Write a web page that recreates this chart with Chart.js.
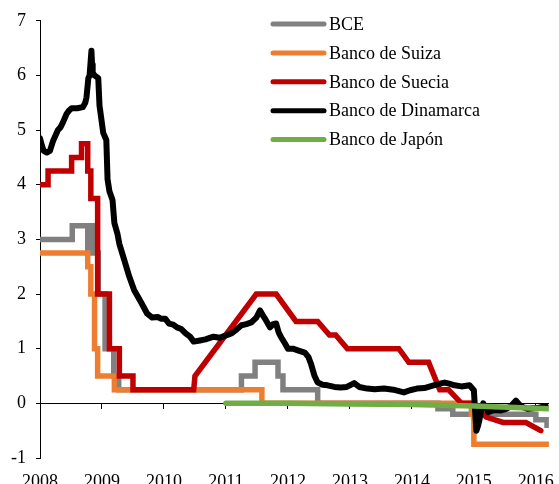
<!DOCTYPE html>
<html>
<head>
<meta charset="utf-8">
<script src="https://cdn.jsdelivr.net/npm/chart.js@4.4.1/dist/chart.umd.min.js"></script>
<style>
body { margin: 0; background: #fff; }
#wrap { width: 559px; height: 484px; overflow: hidden; }
</style>
</head>
<body>
<div id="wrap"><canvas id="graph" width="559" height="484"></canvas></div>
<script>
// series names + colours (legend order)
const seriesLabels = ['BCE', 'Banco de Suiza', 'Banco de Suecia', 'Banco de Dinamarca', 'Banco de Japón'];
const seriesColors = ['#808080', '#ed7d31', '#c00000', '#000000', '#70ad47'];

// axis ranges / ticks
const yearMin = 2008;
const yearMax = 2016.21;
const rateMin = -1;
const rateMax = 7;

// BCE
const bceYears = [2008.0, 2008.52, 2008.52, 2008.77, 2008.77, 2008.79, 2008.79, 2008.87, 2008.87, 2008.94, 2008.94, 2009.05, 2009.05, 2009.19, 2009.19, 2009.27, 2009.27, 2011.25, 2011.25, 2011.47, 2011.47, 2011.84, 2011.84, 2011.92, 2011.92, 2012.48, 2012.48, 2014.42, 2014.42, 2014.66, 2014.66, 2016.0, 2016.0, 2016.18, 2016.18, 2016.21];
const bceRates = [3.0, 3.0, 3.25, 3.25, 2.75, 2.75, 3.25, 3.25, 2.75, 2.75, 2.0, 2.0, 1.0, 1.0, 0.5, 0.5, 0.25, 0.25, 0.5, 0.5, 0.75, 0.75, 0.5, 0.5, 0.25, 0.25, 0.0, 0.0, -0.1, -0.1, -0.2, -0.2, -0.3, -0.3, -0.4, -0.4];

// Banco de Suiza
const chYears = [2008.0, 2008.77, 2008.77, 2008.82, 2008.82, 2008.88, 2008.88, 2008.93, 2008.93, 2009.2, 2009.2, 2011.58, 2011.58, 2014.96, 2014.96, 2015.0, 2015.0, 2016.21];
const chRates = [2.75, 2.75, 2.5, 2.5, 2.0, 2.0, 1.0, 1.0, 0.5, 0.5, 0.25, 0.25, 0.0, 0.0, -0.2, -0.2, -0.75, -0.75];

// Banco de Suecia
const seYears = [2008.0, 2008.13, 2008.13, 2008.51, 2008.51, 2008.67, 2008.67, 2008.77, 2008.77, 2008.82, 2008.82, 2008.93, 2008.93, 2009.12, 2009.12, 2009.28, 2009.28, 2009.5, 2009.5, 2010.48, 2010.5, 2011.49, 2011.81, 2012.13, 2012.48, 2012.67, 2012.77, 2012.96, 2013.79, 2013.95, 2014.27, 2014.45, 2014.59, 2014.8, 2014.99, 2015.09, 2015.2, 2015.47, 2015.84, 2016.08];
const seRates = [4.0, 4.0, 4.25, 4.25, 4.5, 4.5, 4.75, 4.75, 4.25, 4.25, 3.75, 3.75, 2.0, 2.0, 1.0, 1.0, 0.5, 0.5, 0.25, 0.25, 0.5, 2.0, 2.0, 1.5, 1.5, 1.25, 1.25, 1.0, 1.0, 0.75, 0.75, 0.25, 0.25, 0.0, 0.0, -0.15, -0.25, -0.35, -0.35, -0.5];

// Banco de Dinamarca
const dkYears = [2008.0, 2008.03, 2008.06, 2008.11, 2008.16, 2008.21, 2008.25, 2008.29, 2008.33, 2008.37, 2008.43, 2008.47, 2008.51, 2008.6, 2008.69, 2008.73, 2008.75, 2008.78, 2008.8, 2008.82, 2008.83, 2008.84, 2008.85, 2008.88, 2008.94, 2008.96, 2008.99, 2009.02, 2009.07, 2009.09, 2009.12, 2009.17, 2009.2, 2009.25, 2009.28, 2009.36, 2009.44, 2009.52, 2009.63, 2009.73, 2009.81, 2009.9, 2009.95, 2010.02, 2010.08, 2010.15, 2010.21, 2010.28, 2010.35, 2010.42, 2010.48, 2010.58, 2010.67, 2010.8, 2010.9, 2010.99, 2011.09, 2011.17, 2011.25, 2011.33, 2011.41, 2011.49, 2011.55, 2011.59, 2011.63, 2011.71, 2011.76, 2011.81, 2011.85, 2011.89, 2011.95, 2012.0, 2012.08, 2012.16, 2012.27, 2012.33, 2012.37, 2012.43, 2012.48, 2012.56, 2012.64, 2012.75, 2012.85, 2012.95, 2013.07, 2013.15, 2013.28, 2013.4, 2013.55, 2013.7, 2013.87, 2013.97, 2014.08, 2014.2, 2014.35, 2014.45, 2014.53, 2014.6, 2014.69, 2014.8, 2014.93, 2015.0, 2015.04, 2015.07, 2015.09, 2015.12, 2015.15, 2015.23, 2015.33, 2015.44, 2015.52, 2015.6, 2015.68, 2015.73, 2015.79, 2015.87, 2015.95, 2016.05, 2016.16];
const dkRates = [4.85, 4.72, 4.62, 4.59, 4.62, 4.8, 4.9, 5.0, 5.05, 5.14, 5.3, 5.36, 5.4, 5.4, 5.42, 5.5, 5.6, 5.95, 6.0, 6.3, 6.45, 6.2, 6.05, 6.0, 5.95, 5.45, 5.2, 4.95, 4.82, 4.1, 3.88, 3.72, 3.3, 3.1, 2.92, 2.62, 2.32, 2.07, 1.85, 1.64, 1.57, 1.58, 1.55, 1.55, 1.46, 1.44, 1.39, 1.36, 1.28, 1.22, 1.13, 1.15, 1.17, 1.22, 1.2, 1.24, 1.28, 1.35, 1.43, 1.45, 1.48, 1.57, 1.7, 1.62, 1.55, 1.39, 1.45, 1.46, 1.3, 1.21, 1.1, 1.0, 1.0, 0.97, 0.93, 0.85, 0.73, 0.5, 0.38, 0.34, 0.33, 0.3, 0.29, 0.3, 0.37, 0.3, 0.27, 0.26, 0.27, 0.25, 0.2, 0.24, 0.27, 0.28, 0.33, 0.36, 0.38, 0.36, 0.33, 0.31, 0.33, 0.24, -0.5, -0.4, -0.3, -0.1, 0.0, -0.16, -0.12, -0.13, -0.1, -0.05, 0.05, -0.02, -0.07, -0.1, -0.09, -0.08, -0.05];

// Banco de Japón
const jpYears = [2011.0, 2012.0, 2013.0, 2014.0, 2015.0, 2016.21];
const jpRates = [0.0, 0.0, -0.01, -0.02, -0.05, -0.1];

const seriesYears = [bceYears, chYears, seYears, dkYears, jpYears];
const seriesRates = [bceRates, chRates, seRates, dkRates, jpRates];
const seriesWidths = [5.5, 5.5, 5.5, 6, 5.5];

const serif = 'Liberation Serif, Times New Roman, serif';
Chart.defaults.font.family = serif;
Chart.defaults.font.size = 18;
Chart.defaults.color = '#000';

function toPoints(xs, ys) {
    let pts = [];
    for (let i = 0; i < xs.length; i++) {
        pts.push({x: xs[i], y: ys[i]});
    }
    return pts;
}

// legend drawn top right, like the excel one
const boxLegend = {
    id: 'boxLegend',
    afterDraw(chart) {
        const ctx = chart.ctx;
        ctx.save();
        ctx.font = '18px ' + serif;
        ctx.textBaseline = 'middle';
        ctx.textAlign = 'left';
        seriesLabels.forEach(function(lab, i) {
            const y = 24 + i * 28.9;
            ctx.strokeStyle = seriesColors[i];
            ctx.lineWidth = 5;
            ctx.lineCap = 'round';
            ctx.beginPath();
            ctx.moveTo(273, y);
            ctx.lineTo(324, y);
            ctx.stroke();
            ctx.fillStyle = '#000';
            ctx.fillText(lab, 329, y + 1);
        });
        ctx.restore();
    }
};

let datasets = [];
for (let i = 0; i < seriesLabels.length; i++) {
    datasets.push({
        label: seriesLabels[i],
        data: toPoints(seriesYears[i], seriesRates[i]),
        borderColor: seriesColors[i],
        backgroundColor: seriesColors[i],
        borderWidth: seriesWidths[i],
        borderCapStyle: 'round',
        borderJoinStyle: i === 3 ? 'round' : 'miter',
        pointRadius: 0,
        tension: 0,
        order: seriesLabels.length - i
    });
}

const container = document.getElementById('graph');
const graph = new Chart(container, {
    type: 'line',
    data: { datasets: datasets },
    plugins: [boxLegend],
    options: {
        responsive: false,
        animation: false,
        layout: { padding: { top: 20, right: 6, left: 0, bottom: 0 } },
        plugins: { legend: { display: false }, tooltip: { enabled: false } },
        scales: {
            x: {
                type: 'linear',
                position: 'bottom',
                min: yearMin,
                max: yearMax,
                grid: { display: false },
                border: { display: false },
                ticks: {
                    stepSize: 1,
                    includeBounds: false,
                    padding: 5,
                    maxRotation: 0,
                    callback: function(v) { return String(v); }
                },
                afterFit: function(s) { s.height = 26; }
            },
            // zero line with year tick marks
            x0: {
                type: 'linear',
                position: { y: 0 },
                min: yearMin,
                max: yearMax,
                grid: { drawOnChartArea: false, drawTicks: true, tickLength: 5, color: '#000', lineWidth: 1 },
                border: { display: true, color: '#000', width: 1 },
                ticks: { display: false, stepSize: 1, includeBounds: false }
            },
            y: {
                min: rateMin,
                max: rateMax,
                grid: { drawOnChartArea: false, drawTicks: true, tickLength: 4, color: '#000' },
                border: { color: '#000', width: 1 },
                ticks: { stepSize: 1, padding: 10 },
                afterFit: function(s) { s.width = 40; }
            }
        }
    }
});
</script>
</body>
</html>
